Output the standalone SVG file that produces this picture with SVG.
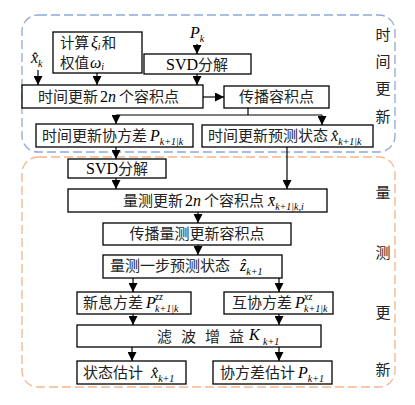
<svg xmlns="http://www.w3.org/2000/svg" width="415" height="405" viewBox="0 0 415 405">
<defs>
<marker id="ah" viewBox="0 0 10 10" refX="10" refY="5" markerWidth="9" markerHeight="9" markerUnits="userSpaceOnUse" orient="auto">
<path d="M0,0 L10,5 L0,10 z" fill="#000"/>
</marker>
<style>
.box{fill:#fff;stroke:#000;stroke-width:1.3}
.cn{font-family:"Noto Sans CJK SC","Liberation Serif",serif;font-size:15px;fill:#222}
.m{font-family:"Liberation Serif",serif;font-style:italic;font-size:16px;fill:#000}
.s{font-family:"Liberation Serif",serif;font-style:italic;font-size:10px;fill:#000}
.lat{font-family:"Liberation Serif",serif;font-size:16px;fill:#000}
.side{font-family:"Noto Sans CJK SC",sans-serif;font-size:15px;fill:#222;text-anchor:middle}
.c{fill:none;stroke:#000;stroke-width:1.2}
.ca{fill:none;stroke:#000;stroke-width:1.2;marker-end:url(#ah)}
</style>
</defs>
<rect width="415" height="405" fill="#fff"/>
<g id="regions">
<rect x="22" y="15" width="373" height="137" rx="16" fill="none" stroke="#8fa9d9" stroke-width="1.3" stroke-dasharray="9,4"/>
<rect x="22" y="157" width="373" height="230" rx="16" fill="none" stroke="#f5b58c" stroke-width="1.3" stroke-dasharray="9,4"/>
<text class="side" x="383" y="40">时</text>
<text class="side" x="383" y="67">间</text>
<text class="side" x="383" y="94">更</text>
<text class="side" x="383" y="122">新</text>
<text class="side" x="383" y="198">量</text>
<text class="side" x="383" y="258">测</text>
<text class="side" x="383" y="318">更</text>
<text class="side" x="383" y="375">新</text>
</g>
<g id="labels">
<text class="m" x="190" y="38">P<tspan class="s" dy="4">k</tspan></text>
<text class="m" x="31" y="63">x̂<tspan class="s" dy="4">k</tspan></text>
</g>
<g id="connectors">
<line class="ca" x1="197" y1="44" x2="197" y2="54"/>
<line class="ca" x1="197" y1="74" x2="197" y2="85"/>
<line class="ca" x1="38" y1="70" x2="38" y2="85"/>
<line class="ca" x1="97" y1="73" x2="97" y2="85"/>
<line class="ca" x1="203" y1="97" x2="224" y2="97"/>
<polyline class="c" points="248,108 248,115"/>
<polyline class="c" points="116,115 322,115"/>
<line class="ca" x1="116" y1="115" x2="116" y2="124"/>
<line class="ca" x1="322" y1="115" x2="322" y2="125"/>
<line class="ca" x1="116" y1="147" x2="116" y2="159"/>
<line class="ca" x1="116" y1="178" x2="116" y2="189"/>
<line class="ca" x1="287" y1="147" x2="287" y2="189"/>
<line class="ca" x1="198" y1="212" x2="198" y2="223"/>
<line class="ca" x1="198" y1="245" x2="198" y2="255"/>
<line class="ca" x1="133" y1="278" x2="133" y2="292"/>
<line class="ca" x1="279" y1="278" x2="279" y2="292"/>
<line class="ca" x1="133" y1="314" x2="133" y2="325"/>
<line class="ca" x1="279" y1="314" x2="279" y2="325"/>
<line class="ca" x1="132" y1="347" x2="132" y2="361"/>
<line class="ca" x1="279" y1="347" x2="279" y2="361"/>
</g>
<g id="calc">
<rect class="box" x="53" y="32" width="89" height="41"/>
<text class="cn" x="60" y="48" style="font-size:14.5px">计算<tspan class="m" dx="2">ξ</tspan><tspan class="s" dy="2">i</tspan><tspan dx="1" dy="-2">和</tspan></text>
<text class="cn" x="60" y="68" style="font-size:14.5px">权值<tspan class="m" dx="1">ω</tspan><tspan class="s" dy="2">i</tspan></text>
</g>
<g id="svd1">
<rect class="box" x="144" y="54" width="107" height="20"/>
<text x="197" y="70" text-anchor="middle"><tspan class="lat">SVD</tspan><tspan class="cn">分解</tspan></text>
</g>
<g id="tu2n">
<rect class="box" x="22" y="85" width="181" height="23"/>
<text class="cn" x="38" y="102">时间更新<tspan class="lat" dx="2">2</tspan><tspan class="m">n</tspan><tspan dx="3">个容积点</tspan></text>
</g>
<g id="prop1">
<rect class="box" x="224" y="86" width="105" height="22"/>
<text class="cn" x="276.5" y="102" text-anchor="middle">传播容积点</text>
</g>
<g id="tucov">
<rect class="box" x="36" y="124" width="157" height="23"/>
<text class="cn" x="42" y="141">时间更新协方差<tspan class="m" dx="3">P</tspan><tspan class="s" dy="4">k+1|k</tspan></text>
</g>
<g id="tustate">
<rect class="box" x="202" y="125" width="171" height="22"/>
<text class="cn" x="208" y="141">时间更新预测状态<tspan class="m" dx="3">x̂</tspan><tspan class="s" dy="4">k+1|k</tspan></text>
</g>
<g id="svd2">
<rect class="box" x="68" y="159" width="98" height="19"/>
<text x="117" y="174" text-anchor="middle"><tspan class="lat">SVD</tspan><tspan class="cn">分解</tspan></text>
</g>
<g id="mu2n">
<rect class="box" x="68" y="189" width="259" height="23"/>
<text class="cn" x="123" y="206">量测更新<tspan class="lat" dx="2">2</tspan><tspan class="m">n</tspan><tspan dx="3">个容积点</tspan><tspan class="m" dx="4">x̄</tspan><tspan class="s" dy="4">k+1|k,i</tspan></text>
</g>
<g id="prop2">
<rect class="box" x="103" y="223" width="188" height="22"/>
<text class="cn" x="197" y="239" text-anchor="middle">传播量测更新容积点</text>
</g>
<g id="zpred">
<rect class="box" x="103" y="255" width="179" height="23"/>
<text class="cn" x="110" y="271">量测一步预测状态<tspan class="m" dx="10">ẑ</tspan><tspan class="s" dy="4">k+1</tspan></text>
</g>
<g id="pzz">
<rect class="box" x="77" y="292" width="114" height="22"/>
<text class="cn" x="83" y="308">新息方差<tspan class="m" dx="3">P</tspan></text>
<text class="s" x="155" y="300">zz</text>
<text class="s" x="155" y="312">k+1|k</text>
</g>
<g id="pxz">
<rect class="box" x="224" y="292" width="109" height="22"/>
<text class="cn" x="232" y="308">互协方差<tspan class="m" dx="3">P</tspan></text>
<text class="s" x="304" y="300">xz</text>
<text class="s" x="304" y="312">k+1|k</text>
</g>
<g id="gain">
<rect class="box" x="77" y="325" width="244" height="22"/>
<text class="cn" x="157" y="342">滤</text>
<text class="cn" x="181" y="342">波</text>
<text class="cn" x="205" y="342">增</text>
<text class="cn" x="229" y="342">益</text>
<text class="m" x="249" y="340">K</text>
<text class="s" x="263" y="345">k+1</text>
</g>
<g id="xest">
<rect class="box" x="77" y="361" width="109" height="23"/>
<text class="cn" x="83" y="378">状态估计<tspan class="m" dx="8">x̂</tspan><tspan class="s" dy="4">k+1</tspan></text>
</g>
<g id="pest">
<rect class="box" x="213" y="361" width="119" height="23"/>
<text class="cn" x="220" y="378">协方差估计<tspan class="m" dx="3">P</tspan><tspan class="s" dy="4">k+1</tspan></text>
</g>
</svg>
